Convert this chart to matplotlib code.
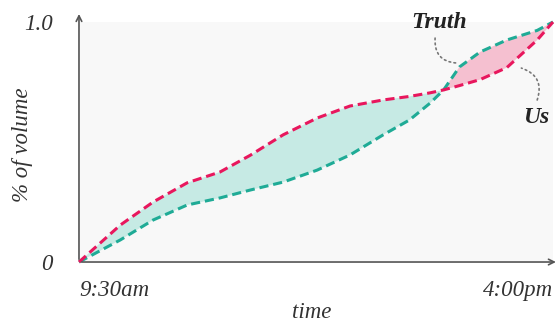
import matplotlib.pyplot as plt
import numpy as np

# minutes since the open (9:30am -> 4:00pm = 390 min)
minutes = [0, 34, 61, 89, 116, 141, 168, 196, 223, 250, 272, 289, 300, 313, 330, 352, 377, 390]
us = [0, 0.154, 0.25, 0.33, 0.375, 0.445, 0.53, 0.60, 0.65, 0.675, 0.69, 0.705, 0.717, 0.735, 0.76, 0.81, 0.925, 1.0]
truth = [0, 0.092, 0.175, 0.2375, 0.267, 0.30, 0.333, 0.383, 0.446, 0.529, 0.592, 0.6625, 0.717, 0.8125, 0.875, 0.925, 0.965, 1.0]

x_ticks = [0, 390]
x_labels = ['9:30am', '4:00pm']
y_ticks = [0, 1.0]
y_labels = ['0', '1.0']

red = '#e8175d'
teal = '#1fab96'
txt = '#333333'
serif = ['Liberation Serif', 'DejaVu Serif']

fig = plt.figure(figsize=(5.57, 3.25), dpi=100)
ax = fig.add_axes([0.1418, 0.1938, 0.8510, 0.7385])
ax.set_facecolor('#f8f8f8')
ax.set_xlim(0, 390)
ax.set_ylim(0, 1.0)

x = np.array(minutes)
u = np.array(us)
t = np.array(truth)
ax.fill_between(x, u, t, where=u >= t, interpolate=True, color='#c6eae4', lw=0)
ax.fill_between(x, u, t, where=t >= u, interpolate=True, color='#f5c0d0', lw=0)
ax.plot(x, t, color=teal, lw=2.2, dashes=(3, 1.6), clip_on=False)
ax.plot(x, u, color=red, lw=2.2, dashes=(3, 1.6), clip_on=False)

for s in ax.spines.values():
    s.set_visible(False)

# axis arrows
ax.annotate('', xy=(0, 1.045), xytext=(0, 0), xycoords='axes fraction',
            arrowprops=dict(arrowstyle='->', color='#555555', lw=1.2))
ax.annotate('', xy=(1.012, 0), xytext=(0, 0), xycoords='axes fraction',
            arrowprops=dict(arrowstyle='->', color='#555555', lw=1.2))

ax.tick_params(length=0)
ax.set_yticks(y_ticks)
ax.set_yticklabels(y_labels, fontsize=16.5, style='italic', family=serif, color=txt)
ax.tick_params(axis='y', pad=19)
ax.set_xticks(x_ticks)
ax.set_xticklabels(x_labels, fontsize=16.5, style='italic', family=serif, color=txt)
ax.tick_params(axis='x', pad=13)
xl = ax.get_xticklabels()
xl[0].set_ha('left')
xl[1].set_ha('right')

ax.set_xlabel('time', fontsize=16.5, style='italic', family=serif, color=txt)
ax.xaxis.set_label_coords(0.49, -0.165)
ax.set_ylabel('% of volume', fontsize=16.5, style='italic', family=serif, color=txt)
ax.yaxis.set_label_coords(-0.098, 0.49)

# labels with dotted connectors
ax.text(296, 0.996, 'Truth', fontsize=17, style='italic', weight='bold', family=serif,
        color='#222222', ha='center', va='center', clip_on=False)
ax.annotate('', xy=(311, 0.829), xytext=(293, 0.933),
            arrowprops=dict(arrowstyle='-', color='#777777', lw=1.2, linestyle=(0, (1, 2)),
                            connectionstyle='arc3,rad=0.5', shrinkA=0, shrinkB=0))
ax.text(376, 0.604, 'Us', fontsize=17, style='italic', weight='bold', family=serif,
        color='#222222', ha='center', va='center')
ax.annotate('', xy=(364, 0.808), xytext=(377, 0.675),
            arrowprops=dict(arrowstyle='-', color='#777777', lw=1.2, linestyle=(0, (1, 2)),
                            connectionstyle='arc3,rad=0.5', shrinkA=0, shrinkB=0))

fig.savefig('out.png', dpi=100)
